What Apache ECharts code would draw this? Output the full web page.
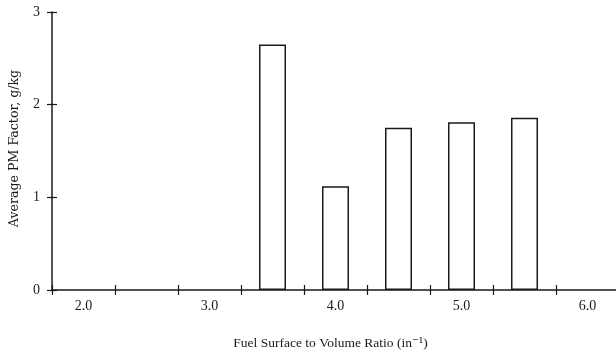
<!DOCTYPE html>
<html>
<head>
<meta charset="utf-8">
<script src="https://cdn.jsdelivr.net/npm/echarts@6/dist/echarts.min.js"></script>
<style>
  html, body { margin: 0; padding: 0; background: #fff; }
  #chart { width: 616px; height: 354px; }
</style>
</head>
<body>
<div id="chart"></div>
<script>
// fuel surface-to-volume ratio categories (every other one is labelled)
const ratios = ['2.0', '2.5', '3.0', '3.5', '4.0', '4.5', '5.0', '5.5', '6.0'];
// average PM factor, g/kg (null = no bar)
const pmFactor = [null, null, null, 2.65, 1.12, 1.75, 1.81, 1.86, null];
const yTicks = [0, 1, 2, 3];

const serif = '"Liberation Serif", "DejaVu Serif", serif';
const ink = '#1a1a1a';

const chart = echarts.init(document.getElementById('chart'));

// second pair of axes only draws the inner half of each "+" tick
const innerTicks = { show: true, inside: true, length: 5, lineStyle: { color: ink, width: 1.2 } };
const hiddenLine = { show: true, lineStyle: { color: ink, opacity: 0 } };

chart.setOption({
  backgroundColor: '#fff',
  animation: false,
  textStyle: { fontFamily: serif, color: ink },
  grid: { left: 52, top: 12, width: 567, height: 278, containLabel: false, outerBoundsMode: 'none' },
  xAxis: [
    {
      type: 'category',
      data: ratios,
      boundaryGap: true,
      axisLine: { lineStyle: { color: ink, width: 1.5 } },
      axisTick: { show: true, interval: 0, length: 5, lineStyle: { color: ink, width: 1.2 } },
      axisLabel: { interval: 1, margin: 9, fontSize: 14, color: ink, fontFamily: serif },
      splitLine: { show: false },
      name: 'Fuel Surface to Volume Ratio (in⁻¹)',
      nameLocation: 'middle',
      nameGap: 46,
      nameTextStyle: { fontSize: 13.5, color: ink, fontFamily: serif, padding: [0, 10, 0, 0] }
    },
    {
      type: 'category',
      data: ratios,
      position: 'bottom',
      boundaryGap: true,
      axisLine: hiddenLine,
      axisTick: Object.assign({ interval: 0 }, innerTicks),
      axisLabel: { show: false },
      splitLine: { show: false }
    }
  ],
  yAxis: [
    {
      type: 'value',
      min: yTicks[0],
      max: yTicks[yTicks.length - 1],
      interval: 1,
      axisLine: { show: true, lineStyle: { color: ink, width: 1.5 } },
      axisTick: { show: true, length: 5, lineStyle: { color: ink, width: 1.2 } },
      axisLabel: { margin: 12, fontSize: 14, color: ink, fontFamily: serif },
      splitLine: { show: false },
      name: 'Average PM Factor, g/kg',
      nameLocation: 'middle',
      nameGap: 31,
      nameRotate: 90,
      nameTextStyle: { fontSize: 12.6, color: ink, fontFamily: '"DejaVu Serif", serif', padding: [0, 0, 0, 5] }
    },
    {
      type: 'value',
      position: 'left',
      offset: 0,
      min: yTicks[0],
      max: yTicks[yTicks.length - 1],
      interval: 1,
      axisLine: hiddenLine,
      axisTick: innerTicks,
      axisLabel: { show: false },
      splitLine: { show: false }
    }
  ],
  series: [
    {
      type: 'bar',
      xAxisIndex: 0,
      yAxisIndex: 0,
      data: pmFactor,
      barWidth: 27,
      itemStyle: { color: '#fff', borderColor: ink, borderWidth: 1.5 }
    }
  ]
});
</script>
</body>
</html>
